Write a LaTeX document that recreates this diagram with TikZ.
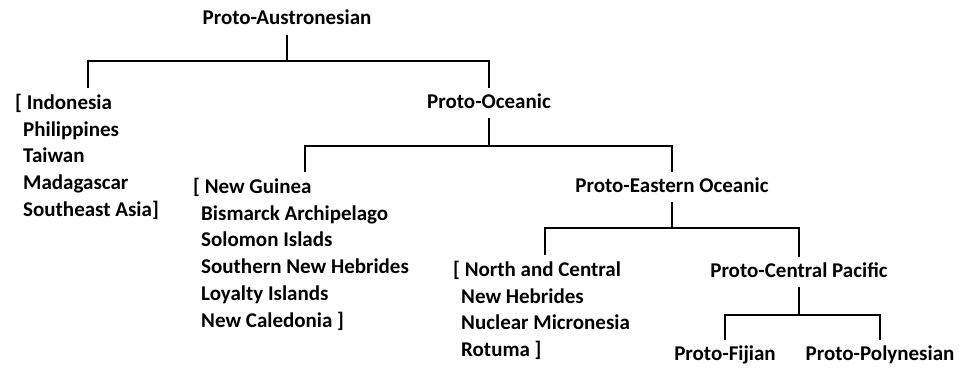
\documentclass[tikz,border=0pt]{standalone}
\usepackage{fontspec}
\setmainfont{Carlito}
\newcommand{\rowin}{\hspace*{8pt}}
\begin{document}
\begin{tikzpicture}[x=1pt, y=-1pt,
    lang/.style={font=\bfseries\fontsize{21}{26.7}\selectfont, inner sep=0pt,
      minimum height=30pt, text height=14pt, text depth=4pt},
    group/.style={font=\bfseries\fontsize{21}{26.7}\selectfont, inner sep=0pt,
      align=left, anchor=north west},
    branch/.style={line width=2pt}]
  \useasboundingbox (0,0) rectangle (965,369);

  % proto-languages
  \node[lang] (pan) at (287,20) {Proto-Austronesian};
  \node[lang] (poc) at (489,103) {Proto-Oceanic};
  \node[lang] (peo) at (672,187) {Proto-Eastern Oceanic};
  \node[lang] (pcp) at (799,272) {Proto-Central Pacific};
  \node[lang] (pfj) at (725,355) {Proto-Fijian};
  \node[lang] (ppn) at (880,355) {Proto-Polynesian};

  % regions of the other branches
  \node[group] (indo) at (15,94) {[ Indonesia\\ \rowin Philippines\\ \rowin Taiwan\\
    \rowin Madagascar\\ \rowin Southeast Asia]};
  \node[group] (ng) at (193,178) {[ New Guinea\\ \rowin Bismarck Archipelago\\
    \rowin Solomon Islads\\ \rowin Southern New Hebrides\\ \rowin Loyalty Islands\\
    \rowin New Caledonia ]};
  \node[group] (nc) at (453,261) {[ North and Central\\ \rowin New Hebrides\\
    \rowin Nuclear Micronesia\\ \rowin Rotuma ]};
  \coordinate (indo-in) at (88,88);
  \coordinate (ng-in) at (305,172);
  \coordinate (nc-in) at (545,255);

  % Proto-Austronesian
  \draw[branch] (pan.south) -- ++(0,26) coordinate (pan-j);
  \draw[branch] (indo-in) |- (pan-j) -| (poc.north);

  % Proto-Oceanic
  \draw[branch] (poc.south) -- ++(0,28) coordinate (poc-j);
  \draw[branch] (ng-in) |- (poc-j) -| (peo.north);

  % Proto-Eastern Oceanic
  \draw[branch] (peo.south) -- ++(0,26) coordinate (peo-j);
  \draw[branch] (nc-in) |- (peo-j) -| (pcp.north);

  % Proto-Central Pacific
  \draw[branch] (pcp.south) -- ++(0,28) coordinate (pcp-j);
  \draw[branch] (pfj.north) |- (pcp-j) -| (ppn.north);
\end{tikzpicture}
\end{document}
